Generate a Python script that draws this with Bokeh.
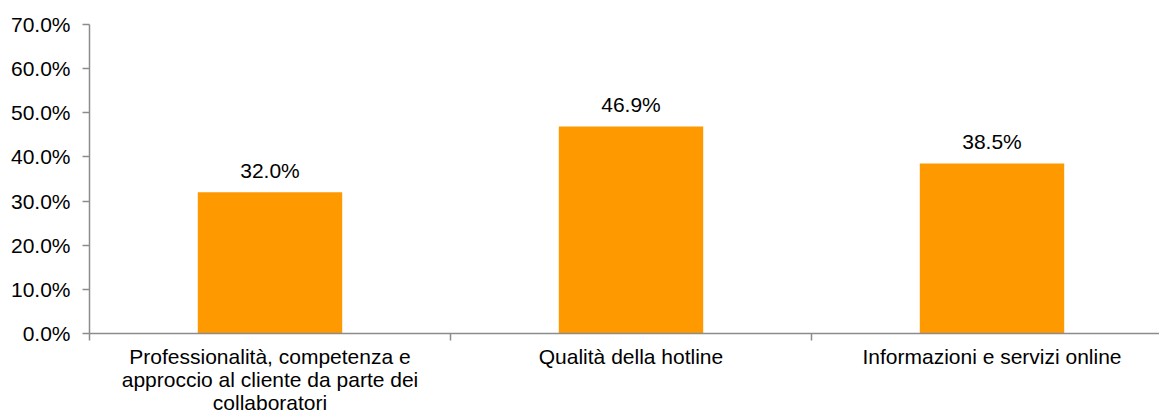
from bokeh.plotting import figure
from bokeh.models import Range1d, FixedTicker, PrintfTickFormatter, ColumnDataSource
from bokeh.embed import file_html
from bokeh.resources import INLINE
from bokeh.core.properties import value

categories = ["Professionalità, competenza e\napproccio al cliente da parte dei\ncollaboratori",
              "Qualità della hotline",
              "Informazioni e servizi online"]
values = [32.0, 46.9, 38.5]
y_ticks = [0, 10, 20, 30, 40, 50, 60, 70]

FONT = "Liberation Sans"
ORANGE = "#FF9900"
GRAY = "#8C8C8C"

xs = [i + 0.5 for i in range(len(categories))]
labels = ["%.1f%%" % v for v in values]
src = ColumnDataSource(dict(x=xs, top=values, label=labels))

p = figure(width=1159, height=416, output_backend="svg", toolbar_location=None,
           x_range=Range1d(0, (1159 - 89) / 361.0), y_range=Range1d(0, 70),
           min_border_left=89, min_border_right=0, min_border_top=24, min_border_bottom=83)
p.outline_line_color = None
p.xgrid.visible = False
p.ygrid.visible = False
p.background_fill_color = "white"
p.border_fill_color = "white"

p.vbar(x="x", top="top", bottom=0, width=0.4, source=src, fill_color=ORANGE, line_color=None)
p.text(x="x", y="top", text="label", source=src, text_align="center", text_baseline="middle",
       y_offset=-22, text_font=value(FONT), text_font_size="21px", text_color="#000000")

# y axis
ya = p.yaxis[0]
ya.ticker = FixedTicker(ticks=y_ticks)
ya.formatter = PrintfTickFormatter(format="%.1f%%")
ya.axis_line_color = GRAY
ya.axis_line_width = 1.5
ya.major_tick_line_color = GRAY
ya.major_tick_line_width = 1.5
ya.major_tick_in = 0
ya.major_tick_out = 7
ya.minor_tick_line_color = None
ya.major_label_text_font = FONT
ya.major_label_text_font_size = "21px"
ya.major_label_text_color = "#000000"
ya.major_label_standoff = 12

# x axis
xa = p.xaxis[0]
xa.ticker = FixedTicker(ticks=xs, minor_ticks=[0, 1, 2, 3])
xa.major_label_overrides = {x: c for x, c in zip(xs, categories)}
xa.axis_line_color = GRAY
xa.axis_line_width = 1.5
xa.major_tick_line_color = None
xa.major_tick_in = 0
xa.major_tick_out = 7
xa.minor_tick_line_color = GRAY
xa.minor_tick_line_width = 1.5
xa.minor_tick_in = 0
xa.minor_tick_out = 7
xa.major_label_text_font = FONT
xa.major_label_text_font_size = "21px"
xa.major_label_text_color = "#000000"
xa.major_label_text_line_height = 1.0
xa.major_label_standoff = 4

open("out.html", "w").write(file_html(p, INLINE))
